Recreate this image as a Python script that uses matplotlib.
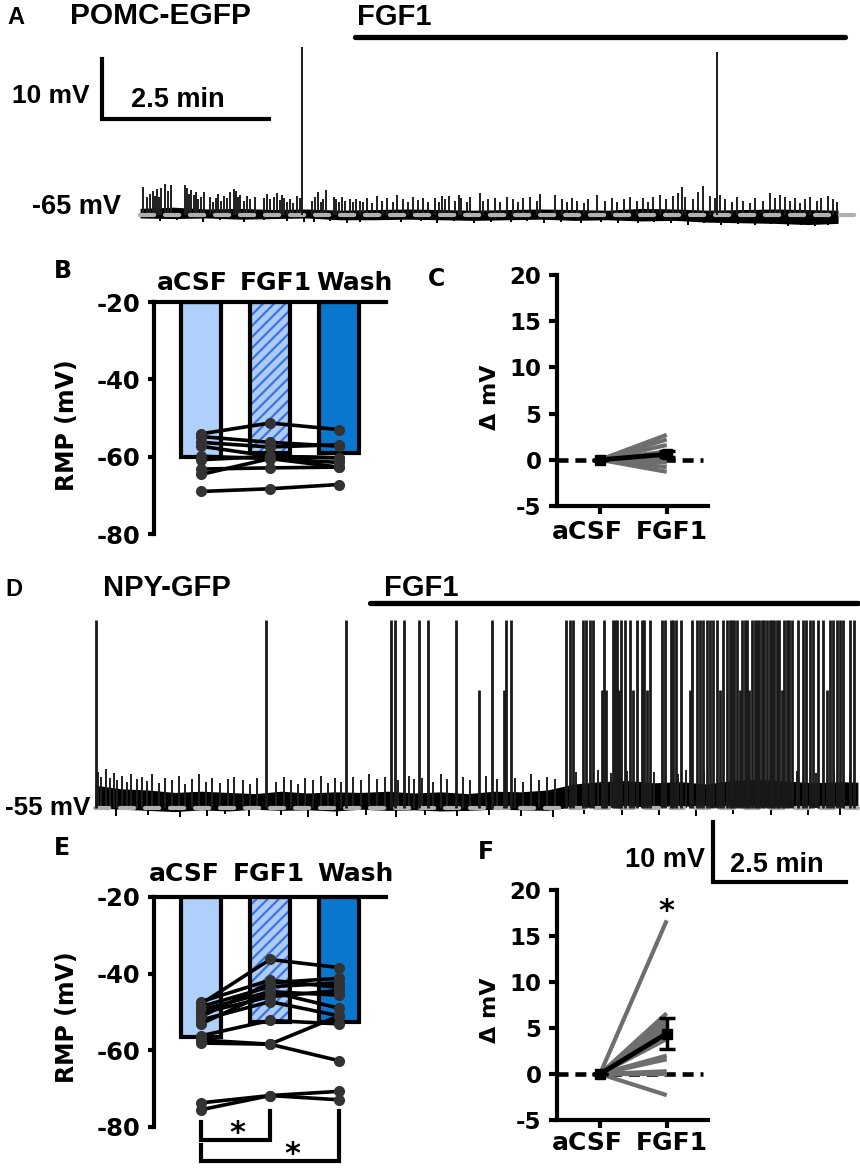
import numpy as np
import matplotlib.pyplot as plt

plt.rcParams['hatch.linewidth'] = 1.6
plt.rcParams['axes.unicode_minus'] = False

W, H = 860, 1170
ARIAL = 'Liberation Sans'
DEJA = 'DejaVu Sans'

# ---------------- data ----------------
# A: POMC-EGFP current clamp trace (time in min, voltage in mV)
A_rest = -65
A_epsp = [(0.05, 4.7), (0.10, 3.0), (0.15, 3.5), (0.19, 4.0), (0.22, 3.2), (0.26, 4.3), (0.29, 3.0), (0.32, 4.5),
          (0.37, 5.2), (0.42, 4.0), (0.47, 5.0), (0.67, 5.0), (0.70, 4.5), (0.74, 3.5), (0.77, 4.2), (0.81, 3.4),
          (0.84, 3.8), (0.87, 2.6), (0.91, 3.0), (0.96, 3.8), (1.05, 3.0), (1.09, 2.2), (1.14, 2.8), (1.17, 3.5),
          (1.21, 2.4), (1.25, 3.2), (1.30, 2.8), (1.35, 3.8), (1.40, 4.4), (1.44, 4.0), (1.47, 3.0), (1.50, 3.4),
          (1.55, 2.4), (1.60, 3.2), (1.65, 2.7), (1.72, 3.0), (1.85, 2.8), (1.90, 3.5), (1.95, 2.6), (2.00, 3.0),
          (2.05, 3.6), (2.09, 2.5), (2.12, 3.3), (2.16, 2.8), (2.20, 2.2), (2.24, 2.6), (2.29, 2.0), (2.35, 3.2),
          (2.39, 2.8), (2.57, 2.3), (2.62, 3.0), (2.67, 3.8), (2.71, 2.2), (2.74, 2.6), (2.78, 4.2), (2.90, 3.0),
          (2.94, 2.6), (2.98, 2.2), (3.02, 3.0), (3.07, 2.4), (3.14, 2.7), (3.19, 2.2), (3.24, 2.6), (3.29, 2.4),
          (3.34, 2.2), (3.40, 2.8), (3.47, 2.0), (3.55, 3.1), (3.62, 2.4), (3.70, 2.9), (3.78, 2.2), (3.85, 3.3),
          (3.93, 2.6), (4.01, 2.1), (4.08, 3.0), (4.16, 2.5), (4.24, 2.9), (4.31, 2.2), (4.42, 2.8), (4.47, 2.2),
          (4.52, 3.1), (4.57, 2.6), (4.62, 3.2), (4.71, 2.4), (4.77, 3.4), (4.81, 2.8), (4.89, 2.2), (4.94, 3.0),
          (5.09, 3.6), (5.14, 2.4), (5.21, 2.6), (5.31, 2.9), (5.39, 2.2), (5.49, 3.0), (5.59, 2.6), (5.66, 2.2),
          (5.74, 2.8), (5.84, 3.0), (5.94, 2.4), (5.99, 3.5), (6.21, 3.4), (6.31, 2.6), (6.39, 2.2), (6.46, 2.8),
          (6.54, 2.4), (6.64, 2.0), (6.71, 2.6), (6.84, 3.3), (6.96, 2.4), (7.06, 2.9), (7.14, 2.2), (7.24, 2.6),
          (7.34, 3.0), (7.44, 2.4), (7.53, 2.8), (7.61, 2.2), (7.68, 3.0), (7.78, 3.4), (7.88, 2.6), (7.98, 3.2),
          (8.06, 3.6), (8.11, 4.6), (8.16, 3.0), (8.28, 2.6), (8.36, 3.8), (8.43, 4.8), (8.53, 3.2), (8.61, 2.8),
          (8.68, 3.4), (8.76, 2.6), (8.86, 2.2), (8.93, 3.0), (9.03, 2.4), (9.13, 2.0), (9.21, 2.8), (9.33, 2.4),
          (9.43, 3.6), (9.51, 2.8), (9.58, 3.4), (9.66, 3.0), (9.73, 2.4), (9.81, 2.8), (9.88, 2.0), (9.96, 2.6),
          (10.03, 3.0), (10.13, 2.4), (10.20, 2.8), (10.30, 3.2), (10.38, 2.6), (10.43, 2.2)]
A_dips = [(0.30, 1.0), (0.55, 0.8), (0.95, 1.1), (1.20, 0.9), (1.55, 1.2), (1.85, 0.9), (2.20, 1.0), (2.45, 1.2),
          (2.60, 1.2), (2.85, 1.0), (3.10, 1.3), (3.30, 1.1), (3.60, 0.9), (3.90, 1.2), (4.20, 1.0), (4.45, 1.3),
          (4.70, 1.0), (5.00, 1.4), (5.25, 1.1), (5.55, 1.2), (5.80, 1.0), (6.05, 1.3), (6.30, 1.1), (6.60, 1.4),
          (6.90, 1.1), (7.15, 1.3), (7.45, 1.4), (7.70, 1.2), (7.95, 1.3), (8.20, 1.6), (8.45, 1.4), (8.70, 1.6),
          (8.95, 1.5), (9.20, 1.7), (9.45, 1.5), (9.70, 1.8), (9.90, 1.6), (10.10, 1.8), (10.30, 1.6)]
A_spikes = [(2.42, -37.0), (8.63, -37.8)]
A_band_t = [0, 0.5, 1.0, 1.5, 2.0, 2.5, 3.0, 3.5, 4.0, 4.5, 5.0, 5.5, 6.0, 6.5, 7.0, 7.5, 8.0, 8.5, 9.0, 9.5,
            10.0, 10.45]
A_band_hi = [-63.9, -63.7, -64.0, -63.9, -64.1, -64.0, -64.2, -64.1, -64.0, -64.1, -64.2, -64.1, -64.0, -64.1,
             -64.2, -63.9, -64.0, -64.2, -64.1, -64.0, -64.1, -64.2]
A_band_lo = [-65.5, -65.6, -65.5, -65.7, -65.6, -65.5, -65.8, -65.8, -65.7, -65.8, -65.9, -65.8, -65.7, -65.9,
             -65.8, -66.0, -65.9, -66.2, -66.3, -66.4, -66.6, -66.4]
A_fgf1 = [3.22, 10.55]

# D: NPY-GFP trace
D_rest = -55
D_epsp = [(0.05, 6.0), (0.12, 5.2), (0.20, 6.5), (0.28, 5.0), (0.35, 5.8), (0.42, 4.6), (0.50, 5.4), (0.60, 4.4),
          (0.68, 5.6), (0.78, 4.8), (0.88, 5.2), (0.98, 4.5), (1.08, 5.6), (1.20, 4.2), (1.32, 5.0), (1.45, 4.6),
          (1.58, 5.4), (1.70, 4.0), (1.82, 4.8), (1.95, 5.6), (2.08, 4.4), (2.20, 5.0), (2.35, 4.2), (2.50, 4.8),
          (2.62, 5.2), (2.78, 4.6), (2.92, 4.0), (3.05, 5.0), (3.40, 4.4), (3.55, 5.2), (3.68, 4.6), (3.82, 4.0),
          (3.95, 5.0), (4.10, 4.6), (4.25, 5.4), (4.38, 4.2), (4.52, 5.0), (4.62, 4.4), (4.85, 5.2), (5.00, 4.6),
          (5.15, 5.6), (5.30, 4.8), (5.45, 5.2), (5.70, 4.6), (5.90, 5.4), (6.00, 4.8), (6.15, 5.0), (6.35, 4.4),
          (6.50, 5.6), (6.62, 4.8), (6.92, 5.2), (7.05, 4.6), (7.35, 5.4), (7.55, 4.8), (7.90, 5.0), (8.05, 4.4),
          (8.20, 5.6), (8.35, 4.6), (8.50, 5.2), (8.65, 4.8), (9.05, 6.0), (9.45, 6.4), (9.70, 5.8), (10.0, 6.2),
          (10.5, 6.0), (10.95, 5.6), (11.1, 6.4), (11.45, 6.0), (13.2, 6.2), (13.55, 5.8), (13.9, 6.4), (14.2, 6.0)]
D_dips = [(0.40, 1.4), (1.00, 1.2), (1.60, 1.5), (2.10, 1.3), (2.45, 1.0), (2.90, 1.4), (3.50, 1.2), (4.00, 1.5),
          (4.55, 1.3), (5.10, 1.2), (5.65, 1.5), (6.20, 1.1), (6.80, 1.4), (7.40, 1.2), (8.00, 1.3), (8.60, 1.5),
          (9.20, 1.0), (9.90, 1.2), (10.60, 1.1), (11.30, 1.3), (12.00, 1.0), (12.70, 1.2), (13.40, 1.1),
          (14.00, 1.2)]
D_spikes = [(0.02, -23.7), (3.21, -23.7), (4.72, -23.7), (5.56, -23.7), (5.64, -23.7), (5.81, -23.7),
            (6.09, -23.7), (6.26, -23.7), (6.79, -23.7), (7.22, -35.3), (7.46, -23.7), (7.69, -35.3),
            (7.73, -23.7), (7.82, -23.7), (8.85, -23.7), (8.93, -23.7), (8.98, -23.7), (9.17, -23.7),
            (9.23, -23.7), (9.30, -23.7), (9.36, -23.7), (9.53, -35.3), (9.57, -23.7), (9.60, -35.3),
            (9.74, -23.7), (9.77, -23.7), (9.81, -23.7), (9.85, -35.3), (9.89, -23.7), (9.96, -23.7),
            (10.06, -23.7), (10.11, -35.3), (10.19, -23.7), (10.28, -23.7), (10.32, -23.7), (10.38, -35.3),
            (10.43, -23.7), (10.66, -23.7), (10.71, -23.7), (10.83, -23.7), (10.86, -23.7), (10.92, -23.7),
            (11.02, -23.7), (11.18, -35.3), (11.22, -23.7), (11.32, -23.7), (11.37, -23.7), (11.43, -23.7),
            (11.50, -23.7), (11.56, -23.7), (11.62, -23.7), (11.69, -23.7), (11.75, -35.3), (11.80, -23.7),
            (11.88, -23.7), (11.93, -23.7), (11.98, -23.7), (12.02, -23.7), (12.07, -23.7), (12.12, -35.3),
            (12.16, -23.7), (12.21, -23.7), (12.26, -23.7), (12.30, -35.3), (12.35, -23.7), (12.40, -23.7),
            (12.44, -23.7), (12.49, -23.7), (12.54, -23.7), (12.58, -23.7), (12.63, -23.7), (12.68, -23.7),
            (12.72, -23.7), (12.77, -23.7), (12.82, -23.7), (12.86, -23.7), (12.91, -35.3), (12.96, -23.7),
            (13.00, -23.7), (13.05, -23.7), (13.10, -23.7), (13.21, -23.7), (13.31, -23.7), (13.36, -23.7),
            (13.44, -23.7), (13.50, -23.7), (13.59, -23.7), (13.69, -23.7), (13.76, -35.3), (13.82, -23.7),
            (13.87, -23.7), (13.95, -23.7), (14.00, -23.7), (14.06, -23.7), (14.19, -23.7), (14.27, -23.7)]
D_band_t = [0, 0.5, 1.0, 1.5, 2.0, 2.5, 3.0, 3.5, 4.0, 4.5, 5.0, 5.5, 6.0, 6.5, 7.0, 7.5, 8.0, 8.5, 9.0, 9.5,
            10.0, 10.5, 11.0, 11.5, 12.0, 12.5, 13.0, 13.5, 14.0, 14.34]
D_band_hi = [-51.2, -51.8, -52.0, -52.4, -52.2, -52.4, -52.6, -52.2, -52.5, -52.3, -52.4, -52.2, -52.5, -52.3,
             -52.6, -52.2, -52.3, -52.0, -51.0, -50.6, -50.4, -50.8, -50.6, -51.0, -50.4, -50.2, -50.5, -50.8,
             -50.6, -50.7]
D_band_lo = [-55.0, -55.2, -55.4, -55.6, -55.3, -55.5, -55.2, -55.4, -55.3, -55.5, -55.2, -55.4, -55.3, -55.5,
             -55.4, -55.2, -55.3, -55.4, -54.8, -54.9, -54.7, -54.8, -54.6, -54.9, -54.8, -54.7, -54.9, -54.8,
             -54.7, -54.8]
D_fgf1 = [5.17, 14.34]

# B / E: resting membrane potential (mV) per cell, aCSF / FGF1 / Wash
conditions = ['aCSF', 'FGF1', 'Wash']
B_means = [-60.0, -59.0, -59.0]
B_cells = [[-54.1, -51.3, -53.0], [-54.8, -56.3, -57.3], [-56.3, -57.5, -56.9], [-57.3, -59.9, -60.3],
           [-59.9, -60.5, -62.7], [-60.8, -59.9, -60.3], [-63.2, -62.9, -62.7], [-64.6, -60.5, -61.5],
           [-69.0, -68.3, -67.2]]
E_means = [-56.6, -52.5, -52.5]
E_cells = [[-47.3, -41.7, -43.6], [-47.9, -36.3, -38.4], [-48.6, -43.4, -42.4], [-49.5, -44.7, -45.6],
           [-50.3, -46.0, -44.4], [-51.2, -42.4, -41.2], [-52.1, -47.3, -51.0], [-53.1, -44.7, -49.0],
           [-56.2, -52.2, -53.1], [-57.3, -58.4, -62.7], [-58.1, -58.4, -51.0], [-73.7, -71.8, -70.7],
           [-75.5, -71.8, -72.9]]

# C / F: change in membrane potential (mV)
delta_groups = ['aCSF', 'FGF1']
C_delta = [2.7, 2.2, 1.6, 0.9, 0.4, 0.1, -0.3, -0.8, -1.3]
C_mean, C_sem = 0.6, 0.35
F_delta = [16.7, 6.6, 6.0, 5.6, 5.2, 4.8, 4.4, 3.8, 2.0, 1.6, 0.3, 0.0, -2.3]
F_mean, F_sem = 4.4, 1.65

bar_colors = ['#aed0fa', '#aecbf5', '#0a77cf']
hatch_color = '#3a74dc'

fig = plt.figure(figsize=(8.6, 11.7), dpi=100)


def axes_px(x0, y0, x1, y1):
    return fig.add_axes([x0 / W, 1 - y1 / H, (x1 - x0) / W, (y1 - y0) / H])


def txt(x, y, s, size, font=ARIAL, **kw):
    kw.setdefault('ha', 'center')
    kw.setdefault('va', 'center')
    fig.text(x / W, 1 - y / H, s, fontsize=size, fontweight='bold', family=font, **kw)


def draw_trace(ax, rest, band_t, band_hi, band_lo, epsp, dips, spikes, dash_end, spike_lw):
    ax.fill_between(band_t, band_lo, band_hi, color='k', lw=0, zorder=2)
    t, a = zip(*epsp)
    ax.vlines(t, rest, rest + np.array(a), color='#1e1e1e', lw=1.4, zorder=3)
    t, d = zip(*dips)
    ax.vlines(t, rest - np.array(d), rest, color='k', lw=1.4, zorder=2)
    ax.plot([0, dash_end], [rest, rest], color='#b0b0b0', lw=3, dashes=(3.4, 2.6),
            dash_capstyle='round', zorder=4)
    t, p = zip(*spikes)
    ax.vlines(t, rest, p, color='#1a1a1a', lw=spike_lw, zorder=5)


# ---------------- A ----------------
axA = axes_px(0, 0, 860, 240)
axA.set_xlim(-2.096, 10.778)
axA.set_ylim(-69.17, -29.17)
axA.set_axis_off()
draw_trace(axA, A_rest, A_band_t, A_band_hi, A_band_lo, A_epsp, A_dips, A_spikes, 10.70, 1.4)
axA.plot(A_fgf1, [-35.3, -35.3], color='k', lw=3.8, solid_capstyle='round')
axA.plot([-0.569, -0.569, 1.93], [-39.0, -49.0, -49.0], color='k', lw=3, solid_joinstyle='miter')
txt(16, 17, 'A', 17)
txt(160, 16, 'POMC-EGFP', 21.5)
txt(394, 17, 'FGF1', 21)
txt(51, 96, '10 mV', 19)
txt(178, 100, '2.5 min', 19.5)
txt(77, 207, '-65 mV', 19.5)

# ---------------- D ----------------
axD = axes_px(0, 560, 860, 900)
axD.set_xlim(-1.786, 14.380)
axD.set_ylim(-70.33, -13.67)
axD.set_axis_off()
draw_trace(axD, D_rest, D_band_t, D_band_hi, D_band_lo, D_epsp, D_dips, D_spikes, 14.34, 2.0)
axD.plot(D_fgf1, [-20.8, -20.8], color='k', lw=3.8, solid_capstyle='round')
axD.plot([11.62, 11.62, 14.12], [-57.33, -67.33, -67.33], color='k', lw=3, solid_joinstyle='miter')
txt(14, 590, 'D', 17)
txt(167, 588, 'NPY-GFP', 21)
txt(421, 588, 'FGF1', 21)
txt(48, 808, '-55 mV', 18.7)
txt(665, 860, '10 mV', 19.5)
txt(777, 865, '2.5 min', 19.5)


# ---------------- B / E ----------------
def rmp_panel(ax, means, cells):
    x = np.arange(len(conditions))
    for i, m in enumerate(means):
        if i == 1:
            ax.bar(x[i], m + 20, bottom=-20, width=0.59, color=bar_colors[i], edgecolor=hatch_color,
                   hatch='///', lw=0, zorder=1)
            ax.bar(x[i], m + 20, bottom=-20, width=0.59, fill=False, edgecolor='k', lw=3, zorder=2)
        else:
            ax.bar(x[i], m + 20, bottom=-20, width=0.59, color=bar_colors[i], edgecolor='k', lw=3, zorder=2)
    for c in cells:
        ax.plot(x, c, '-o', color='k', mfc='#333333', mec='#333333', lw=2.6, ms=7, zorder=4,
                clip_on=False)
    ax.set_xlim(-0.681, 2.681)
    ax.set_ylim(-80, -20)
    for s in ('right', 'bottom'):
        ax.spines[s].set_visible(False)
    for s in ('left', 'top'):
        ax.spines[s].set_linewidth(3)
    ax.set_xticks([])
    ax.set_yticks([-20, -40, -60, -80])
    ax.tick_params(axis='y', direction='out', length=4.5, width=3, pad=5.5, labelsize=17.5)
    for lab in ax.get_yticklabels():
        lab.set_fontweight('bold')
        lab.set_family(DEJA)
    ax.set_facecolor('none')


axB = axes_px(154, 302, 386, 534)
rmp_panel(axB, B_means, B_cells)
txt(63, 271, 'B', 17, font=DEJA)
for cx, name in zip([192, 276, 354], conditions):
    txt(cx, 283, name, 18, font=DEJA)
txt(67, 425, 'RMP (mV)', 17, font=DEJA, rotation=90)

axE = axes_px(154, 897, 386, 1127)
rmp_panel(axE, E_means, E_cells)
txt(62, 848, 'E', 17, font=DEJA)
for cx, name in zip([184, 269, 355], conditions):
    txt(cx, 874, name, 18, font=DEJA)
txt(67, 1017, 'RMP (mV)', 17, font=DEJA, rotation=90)
# significance brackets
br = dict(color='k', lw=3, clip_on=False, solid_joinstyle='miter')
axE.plot([0, 0, 1, 1], [-78.8, -83.3, -83.3, -75.9], **br)
axE.plot([0, 0, 2, 2], [-84.6, -88.9, -88.9, -75.9], **br)
axE.text(0.53, -81.6, '*', fontsize=22, fontweight='bold', family=DEJA, ha='center', va='center')
axE.text(1.33, -87.3, '*', fontsize=22, fontweight='bold', family=DEJA, ha='center', va='center')


# ---------------- C / F ----------------
def delta_panel(ax, deltas, mean, sem):
    ax.plot([-0.649, 1.544], [0, 0], color='k', lw=3.3, dashes=(2.4, 1.5), zorder=1, clip_on=False)
    for d in deltas:
        ax.plot([0, 1], [0, d], color='#6e6e6e', lw=3, solid_capstyle='butt', zorder=2)
    ax.plot([0, 1], [0, mean], color='k', lw=3.5, zorder=3)
    ax.errorbar([0, 1], [0, mean], yerr=[0, sem], fmt='s', color='k', ms=7, capsize=6, capthick=2.5,
                elinewidth=2.5, zorder=4)
    ax.set_xlim(-0.649, 1.619)
    ax.set_ylim(-5, 20)
    for s in ('right', 'top'):
        ax.spines[s].set_visible(False)
    for s in ('left', 'bottom'):
        ax.spines[s].set_linewidth(3)
    ax.set_xticks([0, 1])
    ax.set_xticklabels([])
    ax.set_yticks([-5, 0, 5, 10, 15, 20])
    ax.tick_params(direction='out', length=6, width=3, labelsize=16.5)
    ax.tick_params(axis='y', pad=5)
    for lab in ax.get_yticklabels():
        lab.set_fontweight('bold')
        lab.set_family(DEJA)
    ax.set_facecolor('none')


axC = axes_px(556.7, 275, 708, 506)
delta_panel(axC, C_delta, C_mean, C_sem)
txt(437, 279, 'C', 17, font=DEJA)
txt(490, 397, 'Δ mV', 16, font=DEJA, rotation=90)
for cx, name in zip([587, 672], delta_groups):
    txt(cx, 532, name, 18, font=DEJA)

axF = axes_px(556.7, 890, 708, 1120)
delta_panel(axF, F_delta, F_mean, F_sem)
axF.text(1, 17.7, '*', fontsize=22, fontweight='bold', family=DEJA, ha='center', va='center')
txt(486, 852, 'F', 17, font=DEJA)
txt(490, 1010, 'Δ mV', 16, font=DEJA, rotation=90)
for cx, name in zip([587, 672], delta_groups):
    txt(cx, 1143, name, 18, font=DEJA)

fig.savefig('out.png', dpi=100)
